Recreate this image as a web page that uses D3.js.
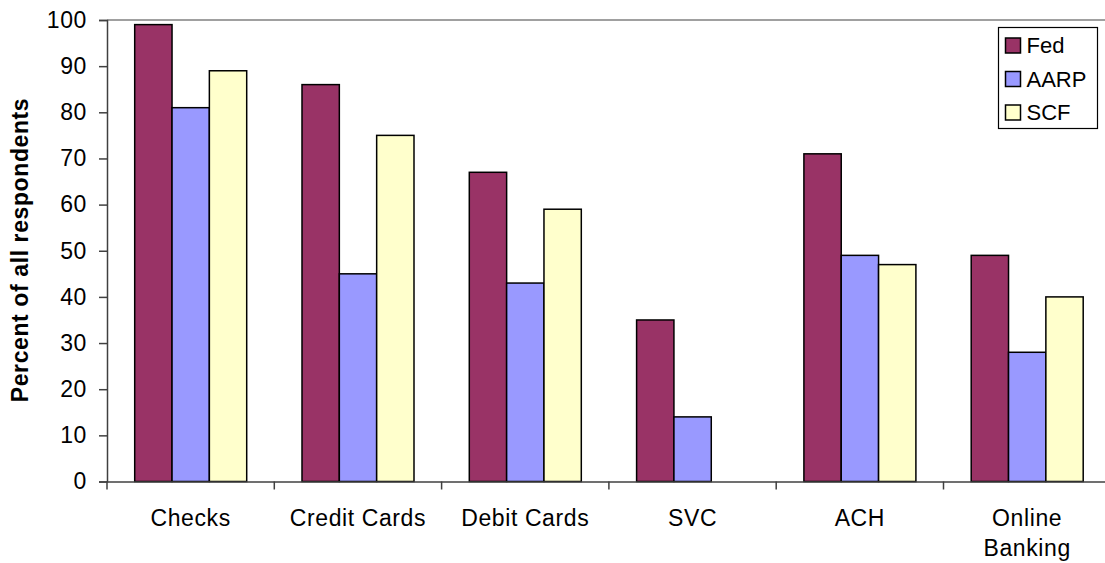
<!DOCTYPE html>
<html><head><meta charset="utf-8">
<script src="https://cdn.jsdelivr.net/npm/d3@7"></script>
<style>
html,body{margin:0;padding:0;background:#fff;}
svg{display:block;font-family:"Liberation Sans",Arial,sans-serif;}
</style></head>
<body>
<svg id="chart" width="1105" height="563"></svg>
<script>
const categories = ["Checks", "Credit Cards", "Debit Cards", "SVC", "ACH", "Online Banking"];
const seriesNames = ["Fed", "AARP", "SCF"];
const fedValues  = [99, 86, 67, 35, 71, 49];
const aarpValues = [81, 45, 43, 14, 49, 28];
const scfValues  = [89, 75, 59, null, 47, 40];
const seriesColors = ["#993366", "#9999FF", "#FFFFCC"];
const yTicks = [0, 10, 20, 30, 40, 50, 60, 70, 80, 90, 100];
const yTitle = "Percent of all respondents";

(function () {
const allValues = [fedValues, aarpValues, scfValues];
const svg = d3.select("#chart");
const mLeft = 107, mTop = 20, mBottom = 481.5, step = 167.3;
const mRight = mLeft + step * categories.length;
const FS = 23, LS = 0.6;

const x0 = d3.scaleBand().domain(categories).range([mLeft, mRight]).padding(0);
const x1 = d3.scaleBand().domain(seriesNames).range([27.7, 139.7]).padding(0);
const y = d3.scaleLinear().domain([0, 100]).range([mBottom, mTop]);

// top border line
svg.append("line").attr("x1", mLeft).attr("x2", 1105).attr("y1", mTop).attr("y2", mTop)
  .attr("stroke", "#808080").attr("stroke-width", 1.5);

// bars
const groups = svg.append("g").selectAll("g").data(categories).join("g")
  .attr("transform", c => `translate(${x0(c)},0)`);
groups.selectAll("rect")
  .data((c, i) => seriesNames.map((s, j) => ({s, v: allValues[j][i], color: seriesColors[j]})).filter(d => d.v != null && d.v > 0))
  .join("rect")
  .attr("x", d => x1(d.s))
  .attr("width", x1.bandwidth())
  .attr("y", d => y(d.v))
  .attr("height", d => y(0) - y(d.v))
  .attr("fill", d => d.color)
  .attr("stroke", "#000").attr("stroke-width", 1.5);

// y axis
const yAxis = d3.axisLeft(y).tickValues(yTicks).tickSize(8).tickPadding(12);
const gy = svg.append("g").attr("transform", `translate(${mLeft},0)`).call(yAxis);
gy.select(".domain").attr("stroke", "#404040").attr("stroke-width", 1.5);
gy.selectAll(".tick line").attr("stroke", "#404040").attr("stroke-width", 1.5);
gy.selectAll(".tick text").attr("font-size", FS).attr("letter-spacing", LS).attr("fill", "#000")
  .attr("font-family", "Liberation Sans, Arial, sans-serif");

// x axis
const xAxis = d3.axisBottom(x0).tickSize(0).tickFormat("");
const gx = svg.append("g").attr("transform", `translate(0,${mBottom})`).call(xAxis);
gx.select(".domain").attr("stroke", "#404040").attr("stroke-width", 1.5);
// category boundary ticks
svg.append("g").selectAll("line").data(categories).join("line")
  .attr("x1", c => x0(c)).attr("x2", c => x0(c))
  .attr("y1", mBottom).attr("y2", mBottom + 8)
  .attr("stroke", "#404040").attr("stroke-width", 1.5);

// category labels
const labels = svg.append("g").selectAll("text").data(categories).join("text")
  .attr("x", c => x0(c) + x0.bandwidth() / 2)
  .attr("y", 526)
  .attr("text-anchor", "middle").attr("font-size", FS).attr("letter-spacing", LS).attr("fill", "#000");
labels.each(function(c) {
  const t = d3.select(this);
  const words = c === "Online Banking" ? ["Online", "Banking"] : [c];
  words.forEach((w, i) => t.append("tspan").attr("x", x0(c) + x0.bandwidth() / 2).attr("dy", i === 0 ? 0 : 30).text(w));
});

// y title
svg.append("text").attr("transform", "translate(28,250) rotate(-90)")
  .attr("text-anchor", "middle").attr("font-size", FS).attr("letter-spacing", LS).attr("font-weight", "bold")
  .attr("fill", "#000").text(yTitle);

// legend
const lg = svg.append("g");
lg.append("rect").attr("x", 998.5).attr("y", 27.5).attr("width", 99).attr("height", 101)
  .attr("fill", "#fff").attr("stroke", "#000").attr("stroke-width", 1.2);
seriesNames.forEach((s, i) => {
  const cy = 45.5 + i * 33.5;
  lg.append("rect").attr("x", 1005.5).attr("y", cy - 7.5).attr("width", 15).attr("height", 15)
    .attr("fill", seriesColors[i]).attr("stroke", "#000").attr("stroke-width", 1.5);
  lg.append("text").attr("x", 1026.5).attr("y", cy).attr("dy", "0.36em")
    .attr("font-size", 22).attr("fill", "#000").text(s);
});
})();
</script>
</body></html>
